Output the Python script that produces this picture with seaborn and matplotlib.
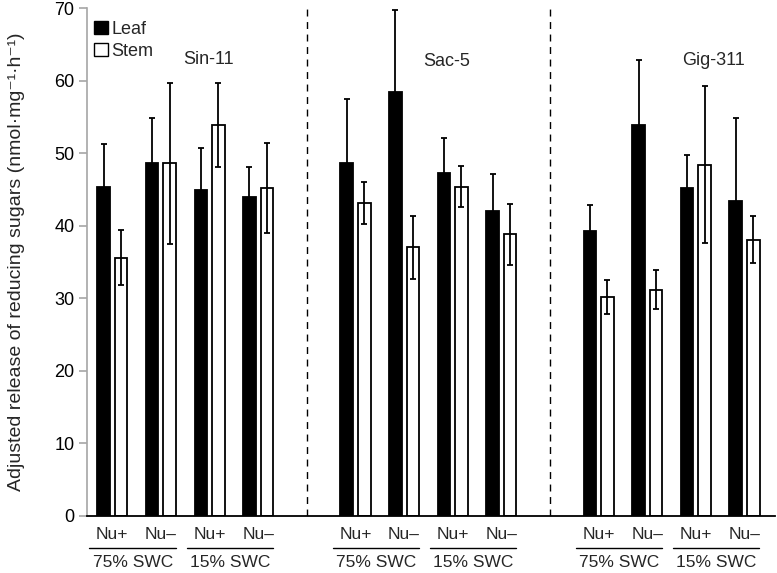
import matplotlib
matplotlib.use("Agg")
import matplotlib.pyplot as plt
import seaborn as sns
import pandas as pd
from matplotlib.patches import Patch
from matplotlib.lines import Line2D

cultivars = ["Sin-11", "Sac-5", "Gig-311"]
nutrient = ["Nu+", "Nu\u2013", "Nu+", "Nu\u2013"]
water = ["75% SWC", "15% SWC"]
leaf_mean = [45.3, 48.7, 44.9, 44.0, 48.6, 58.4, 47.2, 42.0, 39.3, 53.9, 45.2, 43.4]
leaf_err = [5.9, 6.1, 5.8, 4.1, 8.8, 11.3, 4.9, 5.1, 3.6, 8.9, 4.6, 11.4]
stem_mean = [35.6, 48.6, 53.9, 45.2, 43.1, 37.0, 45.4, 38.8, 30.2, 31.2, 48.4, 38.1]
stem_err = [3.8, 11.1, 5.8, 6.2, 2.9, 4.3, 2.8, 4.2, 2.3, 2.7, 10.8, 3.2]
tissues = ["Leaf", "Stem"]

# build table
order = []
rows = []
for ci, cv in enumerate(cultivars):
    for j in range(4):
        key = f"{cv}|{j}"
        order.append(key)
        k = ci * 4 + j
        rows.append(dict(slot=key, tissue="Leaf", value=leaf_mean[k], err=leaf_err[k]))
        rows.append(dict(slot=key, tissue="Stem", value=stem_mean[k], err=stem_err[k]))
    if ci < len(cultivars) - 1:
        order.append(f"gap{ci}")
df = pd.DataFrame(rows)

sns.set_style("white")
plt.rcParams['font.family'] = ['Liberation Sans', 'DejaVu Sans']

fig = plt.figure(figsize=(7.77, 5.73), dpi=100)
ax = fig.add_axes([0.112, 0.0995, 0.885, 0.8865])

sns.barplot(data=df, x="slot", y="value", hue="tissue", order=order,
            hue_order=tissues, palette={"Leaf": "black", "Stem": "white"},
            edgecolor="black", linewidth=1.3, width=0.72, gap=0.28,
            errorbar=None, legend=False, ax=ax)

lookup = {(r.slot, r.tissue): (r.value, r.err) for r in df.itertuples()}
for tissue, cont in zip(tissues, ax.containers):
    for bar in cont:
        cx = bar.get_x() + bar.get_width() / 2
        key = order[int(round(cx))]
        if (key, tissue) not in lookup:
            continue
        v, e = lookup[(key, tissue)]
        ax.errorbar(cx, v, yerr=e, fmt="none", ecolor="black",
                    elinewidth=1.3, capsize=2.2, capthick=1.3, zorder=3)

# dashed separators
for ci in range(len(cultivars) - 1):
    ax.axvline(order.index(f"gap{ci}"), color="black", lw=1.0,
               ls=(0, (5, 4)), zorder=0)

# cultivar labels
label_x = [1.97, 6.88, 12.37]
label_y = [62.9, 62.6, 62.8]
for name, lx, ly in zip(cultivars, label_x, label_y):
    ax.text(lx, ly, name, ha="center", va="center", fontsize=13)

ax.set_xlim(-0.52, 13.62)
ax.set_ylim(0, 70)
ax.set_yticks(range(0, 71, 10))
ax.set_xticks([])
ax.set_xlabel("")
ax.set_ylabel("Adjusted release of reducing sugars (nmol\u00b7mg\u207b\u00b9\u00b7h\u207b\u00b9)",
              fontsize=14)
ax.yaxis.set_label_coords(-0.090, 0.5)
for s in ["top", "right"]:
    ax.spines[s].set_visible(False)
ax.spines["left"].set_color("#a6a6a6")
ax.spines["left"].set_linewidth(1.2)
ax.spines["bottom"].set_color("black")
ax.spines["bottom"].set_linewidth(1.3)
ax.tick_params(axis="y", left=True, length=5.5, width=1.2, color="#a6a6a6",
               labelsize=13, labelcolor="black", pad=3.5)

# condition labels under the axis
trans = ax.get_xaxis_transform()
for ci, cv in enumerate(cultivars):
    for w in range(2):
        s0 = order.index(f"{cv}|{2 * w}")
        for j in range(2):
            ax.text(s0 + j, -0.037, nutrient[2 * w + j], transform=trans,
                    ha="center", va="center", fontsize=12.5)
        ax.add_line(Line2D([s0 - 0.47, s0 + 1.3], [-0.064, -0.064],
                           transform=trans, color="black", lw=1.0, clip_on=False))
        ax.text(s0 + 0.42, -0.091, water[w], transform=trans,
                ha="center", va="center", fontsize=12.5)

handles = [Patch(facecolor="black", edgecolor="black", label="Leaf"),
           Patch(facecolor="white", edgecolor="black", label="Stem")]
ax.legend(handles=handles, loc="upper left", frameon=False, fontsize=13,
          handlelength=0.75, handleheight=0.75, handletextpad=0.2,
          labelspacing=0.3, borderaxespad=0.3, bbox_to_anchor=(-0.008, 1.0))

fig.savefig("out.png", dpi=100)
